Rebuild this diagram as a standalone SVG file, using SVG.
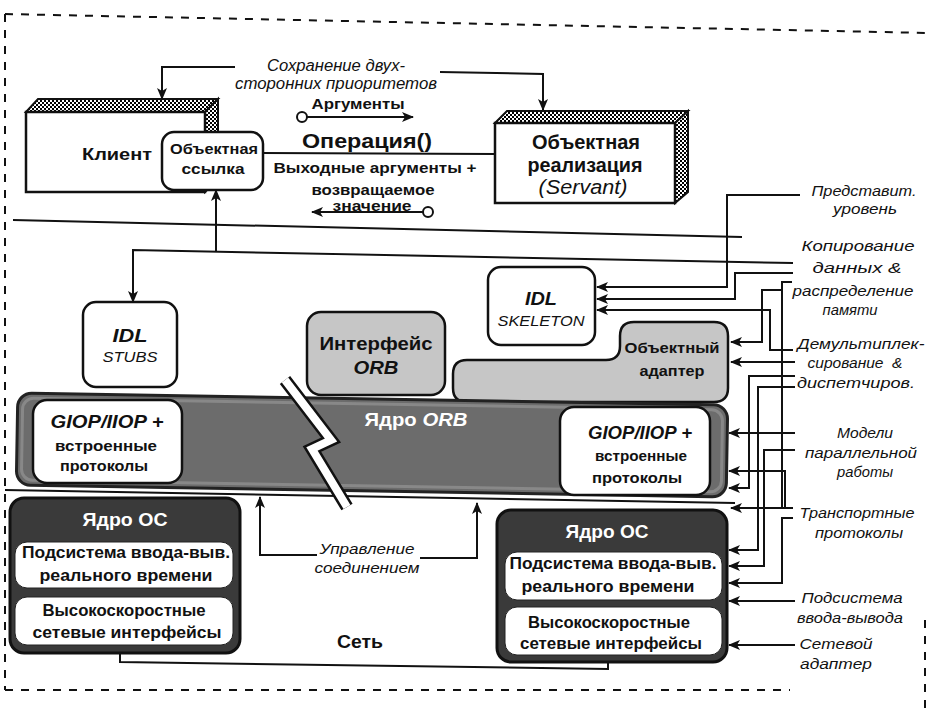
<svg xmlns="http://www.w3.org/2000/svg" width="930" height="709" viewBox="0 0 930 709">
<style>
text{font-family:"Liberation Sans",Arial,sans-serif;dominant-baseline:central;text-anchor:middle;fill:#111}
.b{font-weight:bold}
.i{font-style:italic}
.w{fill:#fff}
.ln{fill:none;stroke:#111;stroke-width:2}
.box{fill:#fff;stroke:#111;stroke-width:2.5}
.gray{fill:#c6c6c6;stroke:#111;stroke-width:2.5}
.os{fill:#3a3a3a;stroke:#111;stroke-width:3}
.inner{fill:#fff;stroke:#222;stroke-width:1}
.dash{fill:none;stroke:#111;stroke-width:2;stroke-dasharray:8 8}
</style>
<defs>
<pattern id="chk" width="4" height="4" patternUnits="userSpaceOnUse"><rect width="4" height="4" fill="#fff"/><rect width="2" height="2" fill="#000"/><rect x="2" y="2" width="2" height="2" fill="#000"/></pattern>
<marker id="ah" markerWidth="12" markerHeight="10" refX="11" refY="5" orient="auto" markerUnits="userSpaceOnUse"><path d="M0,0 L12,5 L0,10 L3,5 Z" fill="#111"/></marker>
</defs>
<rect width="930" height="709" fill="#fff"/>
<g id="frame">
<path class="dash" d="M5,14 L930,33"/>
<path class="dash" d="M5,14 L5,690"/>
<path class="dash" d="M5,690 L790,690"/>
<path class="dash" d="M925,620 L925,709"/>
</g>
<g id="client">
<polygon points="26,112 38,99 218,99 205,112" fill="url(#chk)" stroke="#111" stroke-width="2"/>
<polygon points="205,112 218,99 218,180 205,192" fill="url(#chk)" stroke="#111" stroke-width="2"/>
<rect x="26" y="112" width="179" height="80" class="box"/>
<text class="b" x="117" y="154" font-size="17" textLength="70" lengthAdjust="spacingAndGlyphs">Клиент</text>
</g>
<g id="object-ref">
<rect x="162" y="132" width="101" height="58" rx="12" class="box"/>
<text class="b" x="214" y="148" font-size="15" textLength="88" lengthAdjust="spacingAndGlyphs">Объектная</text>
<text class="b" x="213" y="168" font-size="15" textLength="63" lengthAdjust="spacingAndGlyphs">ссылка</text>
</g>
<g id="servant">
<polygon points="495,123 507,111 688,111 675,123" fill="url(#chk)" stroke="#111" stroke-width="2"/>
<polygon points="675,123 688,111 688,192 675,203" fill="url(#chk)" stroke="#111" stroke-width="2"/>
<rect x="495" y="123" width="180" height="80" class="box"/>
<text class="b" x="586" y="142" font-size="20" textLength="108" lengthAdjust="spacingAndGlyphs">Объектная</text>
<text class="b" x="585" y="165" font-size="20" textLength="115" lengthAdjust="spacingAndGlyphs">реализация</text>
<text class="i" x="583" y="187" font-size="20" textLength="89" lengthAdjust="spacingAndGlyphs">(Servant)</text>
</g>
<g id="idl-stubs">
<rect x="83" y="302" width="94" height="85" rx="13" class="box"/>
<text class="b i" x="130" y="335" font-size="19" textLength="35" lengthAdjust="spacingAndGlyphs">IDL</text>
<text class="i" x="130" y="356" font-size="15" textLength="55" lengthAdjust="spacingAndGlyphs">STUBS</text>
</g>
<g id="idl-skeleton">
<rect x="488" y="267" width="107" height="78" rx="13" class="box"/>
<text class="b i" x="541" y="298" font-size="19" textLength="32" lengthAdjust="spacingAndGlyphs">IDL</text>
<text class="i" x="541" y="320" font-size="15" textLength="87" lengthAdjust="spacingAndGlyphs">SKELETON</text>
</g>
<g id="orb-interface">
<rect x="307" y="312" width="138" height="83" rx="14" class="gray"/>
<text class="b" x="376" y="343" font-size="19" textLength="113" lengthAdjust="spacingAndGlyphs">Интерфейс</text>
<text class="b i" x="376" y="367" font-size="19" textLength="45" lengthAdjust="spacingAndGlyphs">ORB</text>
</g>
<g id="object-adapter">
<path class="gray" d="M453,374 Q453,360 467,360 L606,360 Q620,360 620,346 L620,336 Q620,322 634,322 L714,322 Q728,322 728,336 L728,388 Q728,402 714,402 L467,402 Q453,402 453,388 Z"/>
<text class="b" x="672" y="347" font-size="15" textLength="95" lengthAdjust="spacingAndGlyphs">Объектный</text>
<text class="b" x="672" y="370" font-size="15" textLength="65" lengthAdjust="spacingAndGlyphs">адаптер</text>
</g>
<g id="orb-core">
<rect x="17" y="399" width="710" height="92" rx="14" fill="#6c6c6c" stroke="#222" stroke-width="3" transform="rotate(0.97 372 445)"/>
<rect x="22" y="404" width="700" height="82" rx="11" fill="none" stroke="#888" stroke-width="3" transform="rotate(0.97 372 445)"/>
<text class="b w" x="416" y="420" font-size="18" textLength="103" lengthAdjust="spacingAndGlyphs">Ядро <tspan class="i">ORB</tspan></text>
</g>
<g id="giop-left">
<rect x="33" y="400" width="149" height="83" rx="14" class="box"/>
<text class="b i" x="107" y="422" font-size="18" textLength="113" lengthAdjust="spacingAndGlyphs">GIOP/IIOP +</text>
<text class="b" x="106" y="445" font-size="15" textLength="102" lengthAdjust="spacingAndGlyphs">встроенные</text>
<text class="b" x="104" y="465" font-size="15" textLength="88" lengthAdjust="spacingAndGlyphs">протоколы</text>
</g>
<g id="giop-right">
<rect x="560" y="407" width="150" height="88" rx="14" class="box"/>
<text class="b i" x="640" y="433" font-size="18" textLength="104" lengthAdjust="spacingAndGlyphs">GIOP/IIOP +</text>
<text class="b" x="641" y="455" font-size="15" textLength="92" lengthAdjust="spacingAndGlyphs">встроенные</text>
<text class="b" x="637" y="477" font-size="15" textLength="90" lengthAdjust="spacingAndGlyphs">протоколы</text>
</g>
<g id="connectors">
<path class="ln" d="M235,67 L162,67 L162,99" marker-end="url(#ah)"/>
<path class="ln" d="M440,72 L543,74 L543,110" marker-end="url(#ah)"/>
<path class="ln" d="M307,117 L413,117" marker-end="url(#ah)"/>
<circle cx="302" cy="117" r="5" fill="#fff" stroke="#111" stroke-width="2"/>
<path class="ln" d="M263,153 L495,154"/>
<path class="ln" d="M423,212 L312,212" marker-end="url(#ah)"/>
<circle cx="428" cy="212" r="5" fill="#fff" stroke="#111" stroke-width="2"/>
<path class="ln" d="M13,220 L742,237" stroke-width="3"/>
<path class="ln" d="M793,263 L133,250 L133,302" marker-end="url(#ah)"/>
<path class="ln" d="M216,251.6 L216,190" marker-end="url(#ah)"/>
<path class="ln" d="M800,195 L727,195 L727,287 L597,287" marker-end="url(#ah)"/>
<path class="ln" d="M793,273 L735,273 L735,299 L597,299" marker-end="url(#ah)"/>
<path class="ln" d="M793,350 L770,350 L770,310 L597,310" marker-end="url(#ah)"/>
<path class="ln" d="M792,282 L782,282 L782,508"/>
<path class="ln" d="M782,290 L762,290 L762,342 L731,342" marker-end="url(#ah)"/>
<path class="ln" d="M795,362 L731,362" marker-end="url(#ah)"/>
<path class="ln" d="M795,376 L749,376 L749,488 L729,488" marker-end="url(#ah)"/>
<path class="ln" d="M795,387 L758,387 L758,550 L729,550" marker-end="url(#ah)"/>
<path class="ln" d="M795,433 L729,433" marker-end="url(#ah)"/>
<path class="ln" d="M795,450 L764,450 L764,566 L729,566" marker-end="url(#ah)"/>
<path class="ln" d="M793,508 L731,508" marker-end="url(#ah)"/>
<path class="ln" d="M785,508 L785,471 L729,471" marker-end="url(#ah)"/>
<path class="ln" d="M793,518 L782,518 L782,583 L729,583" marker-end="url(#ah)"/>
<path class="ln" d="M795,601 L729,601" marker-end="url(#ah)"/>
<path class="ln" d="M795,645 L729,645" marker-end="url(#ah)"/>
<path class="ln" d="M5,490 L735,503" stroke-width="2.5"/>
<path class="ln" d="M317,555 L260,555 L260,497" marker-end="url(#ah)"/>
<path class="ln" d="M420,558 L477,558 L477,503" marker-end="url(#ah)"/>
<path class="ln" d="M120,653 L120,662 L608,669 L608,662"/>
</g>
<g id="break">
<polyline points="285,380 331,440 312,449 347,507" fill="none" stroke="#111" stroke-width="13"/>
<polyline points="285,380 331,440 312,449 347,507" fill="none" stroke="#fff" stroke-width="8"/>
</g>
<g id="os-left">
<rect x="10" y="498" width="230" height="155" rx="14" class="os"/>
<text class="b w" x="125" y="520" font-size="18" textLength="85" lengthAdjust="spacingAndGlyphs">Ядро ОС</text>
<rect x="15" y="542" width="218" height="46" rx="12" class="inner"/>
<text class="b" x="126" y="552" font-size="16" textLength="208" lengthAdjust="spacingAndGlyphs">Подсистема ввода-выв.</text>
<text class="b" x="126" y="575" font-size="16" textLength="173" lengthAdjust="spacingAndGlyphs">реального времени</text>
<rect x="15" y="597" width="218" height="48" rx="12" class="inner"/>
<text class="b" x="124" y="610" font-size="16" textLength="163" lengthAdjust="spacingAndGlyphs">Высокоскоростные</text>
<text class="b" x="127" y="632" font-size="16" textLength="189" lengthAdjust="spacingAndGlyphs">сетевые интерфейсы</text>
</g>
<g id="os-right">
<rect x="497" y="510" width="230" height="152" rx="14" class="os"/>
<text class="b w" x="607" y="532" font-size="18" textLength="83" lengthAdjust="spacingAndGlyphs">Ядро ОС</text>
<rect x="505" y="552" width="217" height="48" rx="12" class="inner"/>
<text class="b" x="613" y="563" font-size="16" textLength="207" lengthAdjust="spacingAndGlyphs">Подсистема ввода-выв.</text>
<text class="b" x="608" y="586" font-size="16" textLength="173" lengthAdjust="spacingAndGlyphs">реального времени</text>
<rect x="505" y="607" width="217" height="48" rx="12" class="inner"/>
<text class="b" x="609" y="622" font-size="16" textLength="162" lengthAdjust="spacingAndGlyphs">Высокоскоростные</text>
<text class="b" x="611" y="643" font-size="16" textLength="182" lengthAdjust="spacingAndGlyphs">сетевые интерфейсы</text>
</g>
<g id="labels">
<text class="i" x="336" y="65" font-size="16" textLength="138" lengthAdjust="spacingAndGlyphs">Сохранение двух-</text>
<text class="i" x="336" y="83" font-size="16" textLength="202" lengthAdjust="spacingAndGlyphs">сторонних приоритетов</text>
<text class="b" x="358" y="104" font-size="14" textLength="93" lengthAdjust="spacingAndGlyphs">Аргументы</text>
<text class="b" x="367" y="140" font-size="21" textLength="130" lengthAdjust="spacingAndGlyphs">Операция()</text>
<text class="b" x="375" y="167" font-size="15" textLength="203" lengthAdjust="spacingAndGlyphs">Выходные аргументы +</text>
<text class="b" x="373" y="189" font-size="15" textLength="123" lengthAdjust="spacingAndGlyphs">возвращаемое</text>
<text class="b" x="372" y="205" font-size="15" textLength="79" lengthAdjust="spacingAndGlyphs">значение</text>
<text class="i" x="864" y="190" font-size="15" textLength="105" lengthAdjust="spacingAndGlyphs">Представит.</text>
<text class="i" x="865" y="208" font-size="15" textLength="64" lengthAdjust="spacingAndGlyphs">уровень</text>
<text class="i" x="858" y="245" font-size="15" textLength="113" lengthAdjust="spacingAndGlyphs">Копирование</text>
<text class="i" x="857" y="267" font-size="15" textLength="89" lengthAdjust="spacingAndGlyphs">данных &amp;</text>
<text class="i" x="853" y="290" font-size="15" textLength="121" lengthAdjust="spacingAndGlyphs">распределение</text>
<text class="i" x="850" y="309" font-size="15" textLength="55" lengthAdjust="spacingAndGlyphs">памяти</text>
<text class="i" x="861" y="343" font-size="15" textLength="127" lengthAdjust="spacingAndGlyphs">Демультиплек-</text>
<text class="i" x="855" y="362" font-size="15" textLength="95" lengthAdjust="spacingAndGlyphs" xml:space="preserve">сирование  &amp;</text>
<text class="i" x="856" y="382" font-size="15" textLength="118" lengthAdjust="spacingAndGlyphs">диспетчиров.</text>
<text class="i" x="865" y="432" font-size="15" textLength="56" lengthAdjust="spacingAndGlyphs">Модели</text>
<text class="i" x="861" y="452" font-size="15" textLength="112" lengthAdjust="spacingAndGlyphs">параллельной</text>
<text class="i" x="865" y="471" font-size="15" textLength="56" lengthAdjust="spacingAndGlyphs">работы</text>
<text class="i" x="857" y="512" font-size="15" textLength="115" lengthAdjust="spacingAndGlyphs">Транспортные</text>
<text class="i" x="859" y="532" font-size="15" textLength="88" lengthAdjust="spacingAndGlyphs">протоколы</text>
<text class="i" x="852" y="597" font-size="15" textLength="101" lengthAdjust="spacingAndGlyphs">Подсистема</text>
<text class="i" x="850" y="617" font-size="15" textLength="106" lengthAdjust="spacingAndGlyphs">ввода-вывода</text>
<text class="i" x="836" y="643" font-size="15" textLength="73" lengthAdjust="spacingAndGlyphs">Сетевой</text>
<text class="i" x="836" y="663" font-size="15" textLength="72" lengthAdjust="spacingAndGlyphs">адаптер</text>
<text class="i" x="367" y="548" font-size="15" textLength="95" lengthAdjust="spacingAndGlyphs">Управление</text>
<text class="i" x="367" y="567" font-size="15" textLength="105" lengthAdjust="spacingAndGlyphs">соединением</text>
<text class="b" x="360" y="642" font-size="18" textLength="46" lengthAdjust="spacingAndGlyphs">Сеть</text>
</g>
</svg>
